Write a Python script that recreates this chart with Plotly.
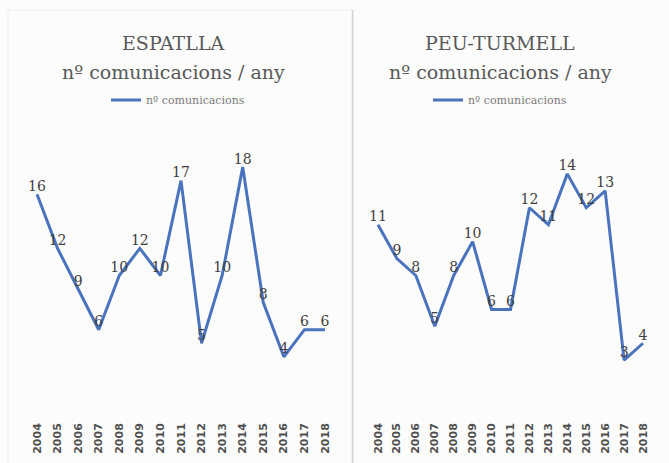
import plotly.graph_objects as go

years = [str(y) for y in range(2004, 2019)]
year_nums = list(range(2004, 2019))
espatlla = [16, 12, 9, 6, 10, 12, 10, 17, 5, 10, 18, 8, 4, 6, 6]
peu_turmell = [11, 9, 8, 5, 8, 10, 6, 6, 12, 11, 14, 12, 13, 3, 4]

W, H = 669, 463
line_color = "#4A73BE"
text_color = "#595959"
serif = "DejaVu Serif, serif"

fig = go.Figure()

fig.add_trace(go.Scatter(
    x=year_nums, y=espatlla, mode="lines+text", name="nº comunicacions",
    text=[str(v) for v in espatlla], textposition="top center",
    textfont=dict(family=serif, size=14, color="#404040"),
    line=dict(color=line_color, width=3), xaxis="x", yaxis="y",
    legend="legend", cliponaxis=False))
fig.add_trace(go.Scatter(
    x=year_nums, y=peu_turmell, mode="lines+text", name="nº comunicacions",
    text=[str(v) for v in peu_turmell], textposition="top center",
    textfont=dict(family=serif, size=14, color="#404040"),
    line=dict(color=line_color, width=3), xaxis="x2", yaxis="y2",
    legend="legend2", cliponaxis=False))

ydom = [1 - 411 / H, 1 - 140 / H]
xcommon = dict(tickmode="array", tickvals=year_nums, ticktext=years, tickangle=-90,
               tickfont=dict(family="DejaVu Sans, sans-serif", size=11, color="#505050",
                             weight="bold"),
               showgrid=False, zeroline=False, showline=False, ticks="", ticklen=0,
               ticklabelstandoff=9)
ycommon = dict(showgrid=False, zeroline=False, showticklabels=False, showline=False)

leg_font = dict(family=serif, size=11, color="#7a7a7a")
fig.update_layout(
    width=W, height=H,
    margin=dict(l=0, r=0, t=0, b=0),
    paper_bgcolor="#fcfcfc", plot_bgcolor="rgba(0,0,0,0)",
    xaxis=dict(domain=[26.7 / W, 335.3 / W], range=[2003.5, 2018.5], **xcommon),
    yaxis=dict(domain=ydom, range=[0, 20], **ycommon),
    xaxis2=dict(domain=[368.5 / W, 652.5 / W], range=[2003.5, 2018.5], anchor="y2", **xcommon),
    yaxis2=dict(domain=ydom, range=[0, 16], anchor="x2", **ycommon),
    legend=dict(x=178 / W, y=1 - 100 / H, xanchor="center", yanchor="middle",
                orientation="h", itemwidth=30, bgcolor="rgba(0,0,0,0)", font=leg_font),
    legend2=dict(x=500 / W, y=1 - 100 / H, xanchor="center", yanchor="middle",
                 orientation="h", itemwidth=30, bgcolor="rgba(0,0,0,0)", font=leg_font),
    showlegend=True,
)

# titles
for cx, t1 in [(173, "ESPATLLA"), (500, "PEU-TURMELL")]:
    fig.add_annotation(x=cx / W, y=1 - 43 / H, xref="paper", yref="paper",
                       text=t1, showarrow=False, xanchor="center", yanchor="middle",
                       font=dict(family=serif, size=19, color=text_color))
    fig.add_annotation(x=cx / W, y=1 - 72 / H, xref="paper", yref="paper",
                       text="nº comunicacions / any", showarrow=False,
                       xanchor="center", yanchor="middle",
                       font=dict(family=serif, size=19, color=text_color))

# panel borders
fig.add_shape(type="line", xref="paper", yref="paper",
              x0=352.5 / W, x1=352.5 / W, y0=0, y1=1 - 10 / H,
              line=dict(color="#d0d0d0", width=1.5))
fig.add_shape(type="line", xref="paper", yref="paper",
              x0=8 / W, x1=8 / W, y0=0, y1=1 - 10 / H,
              line=dict(color="#ececec", width=1))
fig.add_shape(type="line", xref="paper", yref="paper",
              x0=8 / W, x1=352 / W, y0=1 - 10 / H, y1=1 - 10 / H,
              line=dict(color="#ececec", width=1))

fig.write_html("out.html")
